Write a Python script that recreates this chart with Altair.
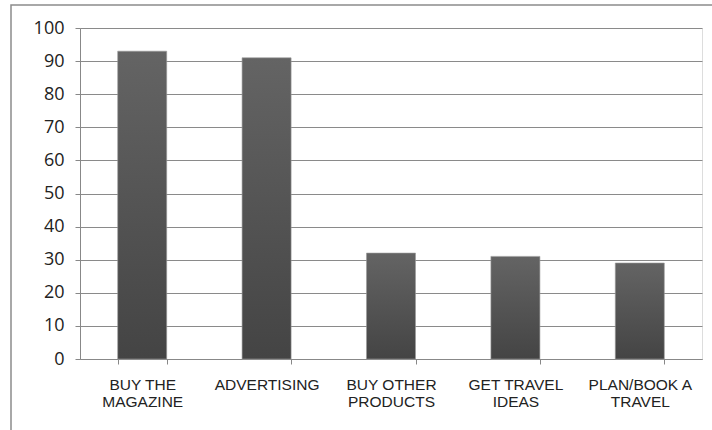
import altair as alt
import pandas as pd

categories = ["BUY THE|MAGAZINE", "ADVERTISING", "BUY OTHER|PRODUCTS", "GET TRAVEL|IDEAS", "PLAN/BOOK A|TRAVEL"]
values = [93, 91, 32, 31, 29]
y_ticks = [0, 10, 20, 30, 40, 50, 60, 70, 80, 90, 100]

df = pd.DataFrame({"cat": categories, "val": values})

grad = alt.Gradient(
    gradient="linear",
    stops=[alt.GradientStop(color="#646464", offset=0),
           alt.GradientStop(color="#444444", offset=1)],
    x1=0, x2=0, y1=0, y2=1,
)

x_enc = alt.X("cat:N", sort=categories, title=None,
              scale=alt.Scale(paddingInner=0.606, paddingOuter=0.303),
              axis=alt.Axis(labelAngle=0, labelExpr="split(datum.label, '|')",
                            labelFont="Liberation Sans", labelFontSize=15.5,
                            labelColor="#222222", labelLineHeight=17,
                            labelPadding=13, tickBand="extent", tickSize=5,
                            tickColor="#888888", domainColor="#888888",
                            labelBaseline="top"))
y_enc = alt.Y("val:Q", title=None,
              scale=alt.Scale(domain=[0, 100], nice=False),
              axis=alt.Axis(values=y_ticks, grid=True, gridColor="#8a8a8a",
                            gridWidth=1, tickSize=5, tickColor="#888888",
                            domainColor="#888888", labelFont="Open Sans",
                            labelFontSize=18, labelColor="#222222",
                            labelPadding=11))

bars = alt.Chart(df).mark_bar(color=grad, stroke="#9a9a9a", strokeWidth=0.6).encode(
    x=x_enc, y=y_enc
)

border = alt.Chart(pd.DataFrame({"k": [0]})).mark_rect(
    fillOpacity=0, stroke="#8c8c8c", strokeWidth=1.5
).encode(x=alt.value(-69), x2=alt.value(660), y=alt.value(-23), y2=alt.value(430))

chart = alt.layer(border, bars).properties(
    width=622, height=331,
    autosize=alt.AutoSizeParams(type="none"),
    padding={"left": 80, "top": 28, "right": 10, "bottom": 71},
).configure_view(stroke=None).configure(background="white")

chart.save("out.html", embed_options={"renderer": "svg", "actions": False})
